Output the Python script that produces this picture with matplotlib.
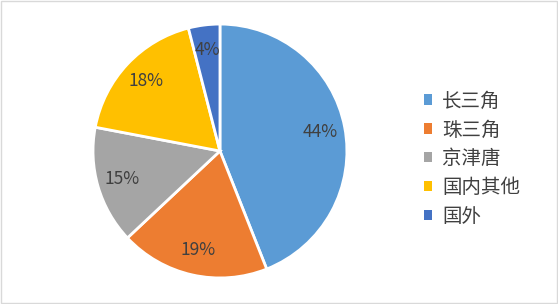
import matplotlib.pyplot as plt
from matplotlib.patches import Rectangle, Patch

plt.rcParams['font.family'] = ['Noto Sans CJK SC', 'DejaVu Sans']

# data
regions = ["长三角", "珠三角", "京津唐", "国内其他", "国外"]
shares = [44, 19, 15, 18, 4]
colors = ["#5B9BD5", "#ED7D31", "#A5A5A5", "#FFC000", "#4472C4"]

fig = plt.figure(figsize=(5.58, 3.04), dpi=100)
ax = fig.add_axes([0.1667, 0.0855, 0.455, 0.8355])

wedges, texts, autotexts = ax.pie(
    shares, colors=colors, startangle=90, counterclock=False,
    autopct="%d%%", pctdistance=0.8,
    wedgeprops=dict(edgecolor="white", linewidth=2),
    textprops=dict(color="#404040", fontsize=12.5),
)
ax.set_xlim(-1, 1)
ax.set_ylim(-1, 1)
ax.set_aspect("equal")

handles = [Patch(facecolor=c, edgecolor="none") for c in colors]
fig.legend(handles, regions, loc="center left", bbox_to_anchor=(0.728, 0.478),
           frameon=False, fontsize=14, labelcolor="#404040",
           handlelength=0.45, handleheight=0.45, handletextpad=0.5,
           labelspacing=0.4)

# light gray border around the chart
fig.patches.append(Rectangle((0.002, 0.003), 0.996, 0.994, transform=fig.transFigure,
                             fill=False, edgecolor="#D9D9D9", linewidth=1))

fig.savefig("out.png", dpi=100)
